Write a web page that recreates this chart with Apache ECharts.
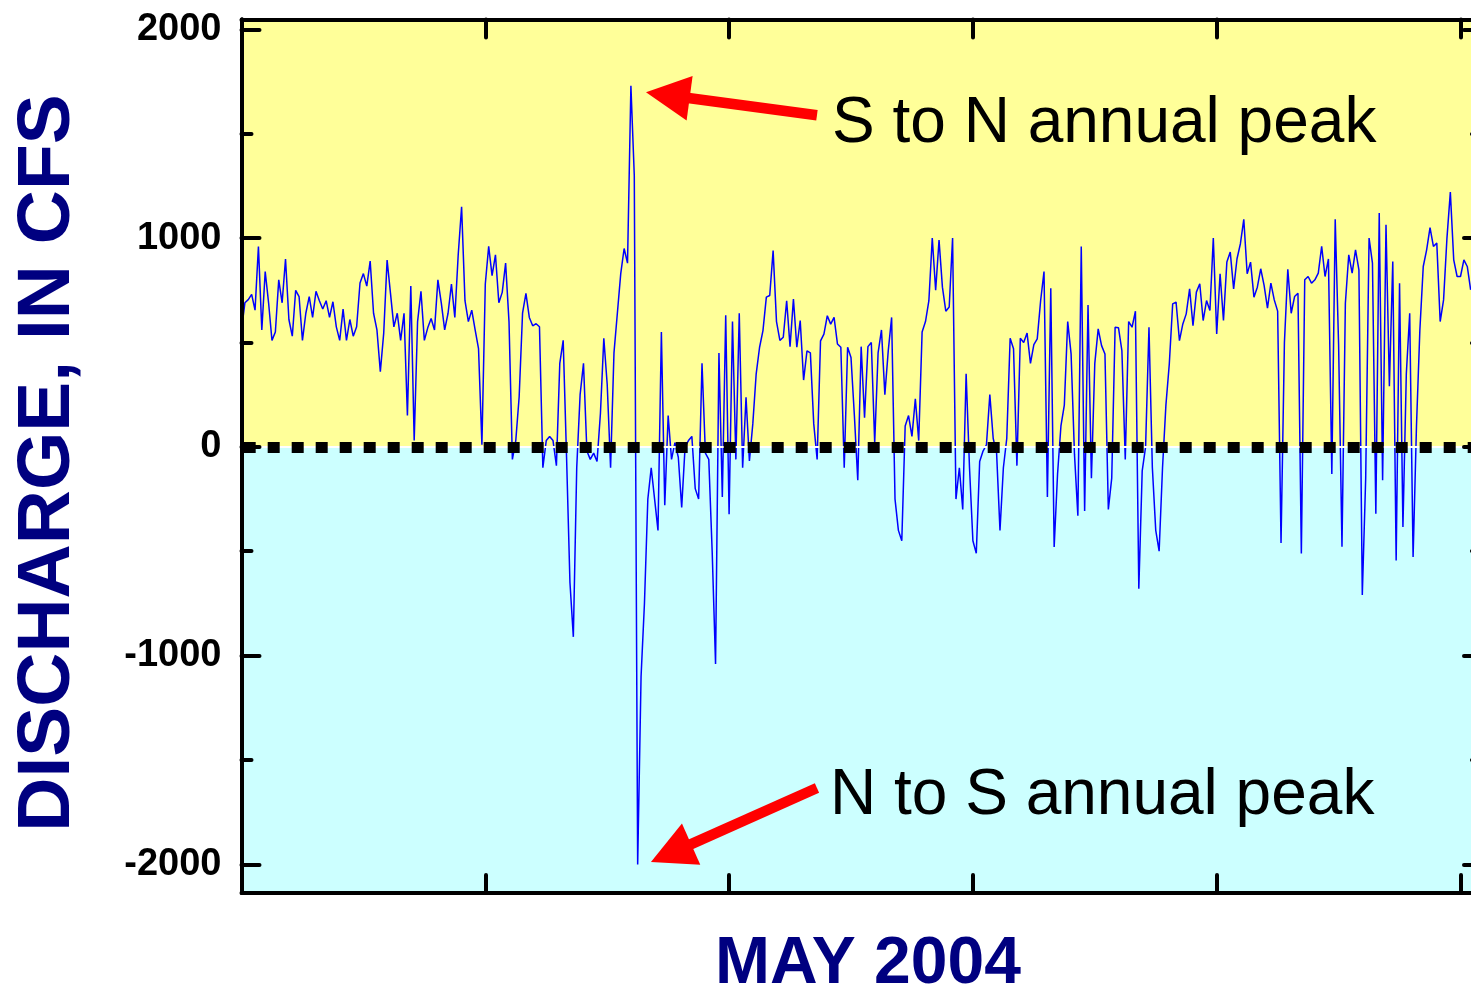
<!DOCTYPE html>
<html>
<head>
<meta charset="utf-8">
<script src="https://cdn.jsdelivr.net/npm/echarts@6/dist/echarts.min.js"></script>
<style>
html,body{margin:0;padding:0;background:#ffffff;}
#chart{width:1471px;height:990px;}
</style>
</head>
<body>
<div id="chart"></div>
<script>
// Discharge (cfs), one reading every 2 hours through the period shown
const HOURS_PER_SAMPLE = 2;
const cfs = [
  560, 690, 705, 730, 655, 960, 560, 840, 690, 510, 550, 800, 690, 900, 610, 530, 750, 720, 510, 640,
  720, 620, 745, 700, 660, 700, 620, 695, 575, 510, 660, 510, 610, 530, 575, 785, 830, 770, 890, 640,
  560, 360, 545, 895, 735, 575, 640, 510, 640, 150, 770, 30, 600, 745, 510, 570, 615, 560, 800, 690,
  560, 640, 780, 620, 920, 1150, 700, 600, 655, 560, 470, 10, 780, 960, 820, 920, 690, 740, 880, 600,
  -60, 30, 240, 640, 735, 620, 580, 590, 575, -100, 30, 50, 30, -90, 400, 510, -50, -650, -910, -100,
  250, 400, -20, -60, -30, -70, 160, 520, 300, -100, 450, 640, 830, 950, 880, 1730, 1300, -2000, -1100, -750,
  -250, -100, -250, -400, 550, -280, 150, -60, 20, -50, -290, 0, 30, 50, -200, -250, 400, -30, -60, -500,
  -1040, 450, -240, 630, -323, 600, -60, 640, -100, 237, -67, 110, 350, 477, 557, 717, 725, 940, 600, 510,
  525, 700, 480, 708, 477, 605, 320, 460, 450, 110, -60, 508, 540, 628, 588, 620, 493, 477, -100, 477,
  428, 150, -160, 480, 140, 480, 500, 20, 450, 560, 250, 460, 620, -250, -400, -450, 100, 150, 50, 230,
  30, 550, 600, 700, 1000, 750, 990, 765, 650, 670, 1000, -250, -100, -300, 350, -100, -450, -510, -70, -20,
  10, 250, 40, -30, -400, -100, 40, 520, 470, -90, 520, 500, 545, 400, 490, 517, 700, 840, -240, 760,
  -480, -130, 100, 200, 600, 445, -35, -330, 960, -307, 680, -150, 400, 565, 485, 445, -300, -150, 573, 570,
  461, -60, 600, 573, 650, -680, -115, 0, 573, -100, -400, -500, -100, 200, 397, 685, 693, 509, 589, 637,
  757, 580, 741, 781, 605, 701, 653, 1000, 541, 829, 605, 885, 933, 757, 901, 973, 1090, 829, 885, 717,
  765, 853, 773, 664, 784, 704, 650, -460, 500, 850, 640, 720, 736, -511, 800, 816, 784, 800, 832, 960,
  816, 900, -130, 1090, 490, -479, 688, 920, 832, 944, 848, -710, -150, 1000, 880, -320, 1120, -160, 1064, 290,
  888, -544, 784, -384, 350, 640, -528, 100, 560, 864, 944, 1050, 960, 976, 600, 704, 1000, 1220, 896, 816,
  816, 896, 864, 752
];
const xTickHours = [0, 144, 288, 432, 576, 720];
const yMajorTicks = [-2000, -1000, 0, 1000, 2000];
const yMinorTicks = [-1500, -500, 500, 1500];
const yTitle = 'DISCHARGE, IN CFS';
const xTitle = 'MAY 2004';
const noteUp = 'S to N annual peak';
const noteDown = 'N to S annual peak';

const X_MAX = 732.7, Y_MIN = -2137, Y_MAX = 2047;
const seriesData = cfs.map((v, i) => [i * HOURS_PER_SAMPLE, v]);

const chart = echarts.init(document.getElementById('chart'), null, {renderer: 'canvas'});
const axisLineStyle = {color: '#000', width: 4, cap: 'round'};
const mkX = (pos) => ({
  type: 'value', position: pos, min: 0, max: X_MAX, z: 10,
  axisLine: {show: true, onZero: false, lineStyle: axisLineStyle},
  axisTick: {show: true, inside: true, length: 18, customValues: xTickHours, lineStyle: {color: '#000', width: 4, cap: 'round'}},
  axisLabel: {show: false}, splitLine: {show: false}
});
const mkY = (pos, ticks, len, labels) => ({
  type: 'value', position: pos, min: Y_MIN, max: Y_MAX, z: 10,
  axisLine: {show: true, onZero: false, lineStyle: axisLineStyle},
  axisTick: {show: true, inside: true, length: len, customValues: ticks, lineStyle: {color: '#000', width: 4, cap: 'round'}},
  axisLabel: labels ? {
    show: true, customValues: yMajorTicks, margin: 20, formatter: (v) => String(v),
    fontFamily: 'Liberation Sans, Arial, sans-serif', fontWeight: 'bold', fontSize: 38, color: '#000',
    padding: [0, 0, 8, 0]
  } : {show: false},
  splitLine: {show: false}
});

const option = {
  animation: false,
  backgroundColor: '#ffffff',
  grid: {left: 241.5, top: 19.5, width: 1240.5, height: 873.5, containLabel: false, outerBoundsMode: 'none'},
  xAxis: [mkX('bottom'), mkX('top')],
  yAxis: [
    mkY('left', yMajorTicks, 18, true),
    mkY('right', yMajorTicks, 18, false),
    mkY('left', yMinorTicks, 10, false),
    mkY('right', yMinorTicks, 10, false)
  ],
  series: [{
    type: 'line',
    xAxisIndex: 0, yAxisIndex: 0,
    data: seriesData,
    showSymbol: false,
    symbol: 'none',
    lineStyle: {color: '#0000ff', width: 1.5},
    z: 2,
    markArea: {
      silent: true,
      data: [
        [{coord: [0, 0], itemStyle: {color: '#ffff99'}}, {coord: [X_MAX, Y_MAX]}],
        [{coord: [0, Y_MIN], itemStyle: {color: '#ccffff'}}, {coord: [X_MAX, 0]}]
      ]
    },
    markLine: {
      silent: true,
      animation: false,
      label: {show: false},
      data: [
        [{coord: [0, 0], symbol: 'none', lineStyle: {color: '#ffffff', width: 2, type: 'solid'}},
         {coord: [X_MAX, 0], symbol: 'none'}],
        [{coord: [0, 0], symbol: 'none', lineStyle: {color: '#000000', width: 11, type: [12, 12], dashOffset: 21.8, cap: 'butt'}},
         {coord: [X_MAX, 0], symbol: 'none'}],
        [{coord: [339.9, 1588], symbol: 'none', lineStyle: {color: '#ff0000', width: 10.5, type: 'solid', cap: 'butt'}},
         {coord: [251.8, 1684], symbol: 'triangle', symbolSize: [45, 44], itemStyle: {color: '#ff0000'}}],
        [{coord: [339.9, -1634], symbol: 'none', lineStyle: {color: '#ff0000', width: 10.5, type: 'solid', cap: 'butt'}},
         {coord: [253.7, -1946], symbol: 'triangle', symbolSize: [45, 44], itemStyle: {color: '#ff0000'}}]
      ]
    }
  }],
  graphic: [
    {type: 'text', x: 48, y: 463, rotation: Math.PI / 2, z: 20,
     style: {text: yTitle, fill: '#000080', font: 'bold 75px "Liberation Sans", Arial, sans-serif', align: 'center', verticalAlign: 'middle'}},
    {type: 'text', x: 868, y: 965, z: 20,
     style: {text: xTitle, fill: '#000080', font: 'bold 66px "Liberation Sans", Arial, sans-serif', align: 'center', verticalAlign: 'middle'}},
    {type: 'text', x: 832, y: 124, z: 20,
     style: {text: noteUp, fill: '#000000', font: '64px "Liberation Sans", Arial, sans-serif', align: 'left', verticalAlign: 'middle'}},
    {type: 'text', x: 830, y: 796, z: 20,
     style: {text: noteDown, fill: '#000000', font: '64px "Liberation Sans", Arial, sans-serif', align: 'left', verticalAlign: 'middle'}}
  ]
};
chart.setOption(option);
</script>
</body>
</html>
